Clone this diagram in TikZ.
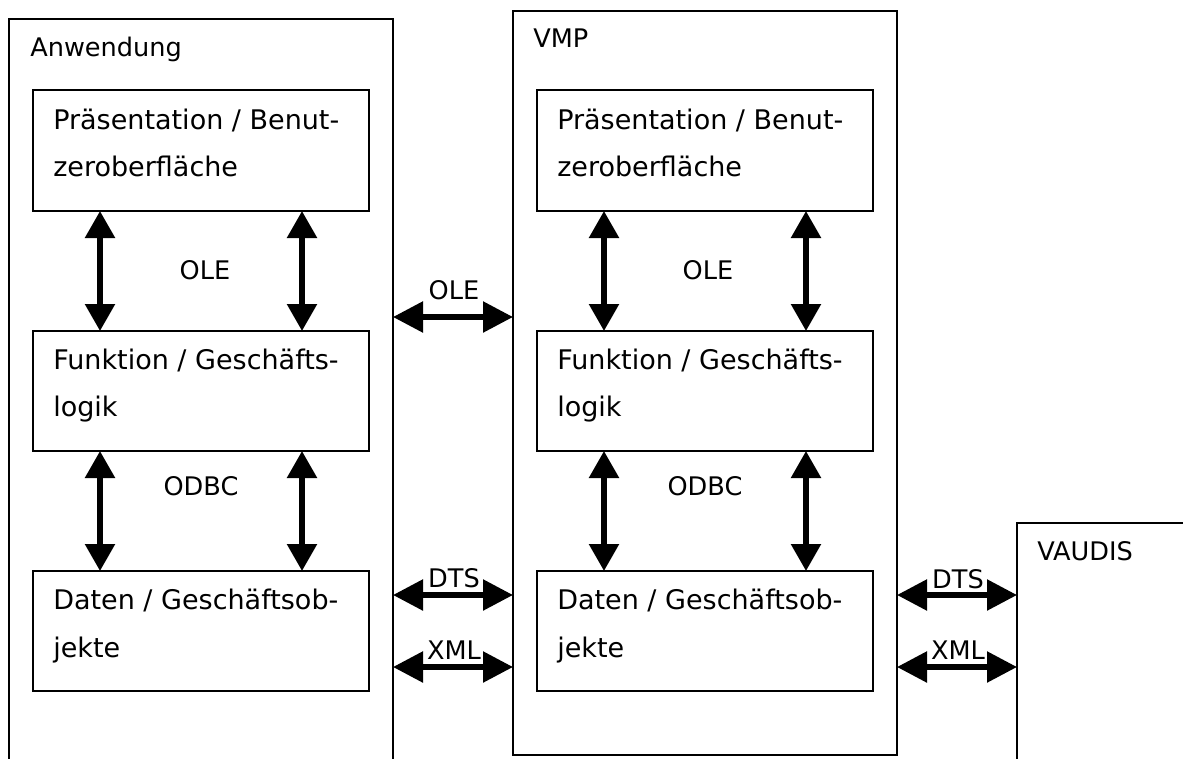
\documentclass[tikz,border=0pt]{standalone}
\usepackage{fontspec}
\setmainfont{DejaVu Sans}
\usetikzlibrary{arrows.meta}
\def\pxu{0.75pt}
\tikzset{
  frame/.style={draw, line width=1.5pt, outer sep=0pt, inner sep=0pt},
  layer/.style={draw, line width=1.5pt, outer sep=0pt, inner sep=0pt,
    minimum width=336*\pxu, minimum height=120*\pxu},
  boxtext/.style={anchor=base west, inner sep=0pt, font=\fontsize{20.25}{24}\selectfont},
  title/.style={anchor=base west, inner sep=0pt, font=\fontsize{19.2}{23}\selectfont},
  lbl/.style={anchor=base, inner sep=0pt, font=\fontsize{19.2}{23}\selectfont},
  varrow/.style={line width=5.5*\pxu,
    {Triangle[length=27*\pxu, width=29*\pxu]}-{Triangle[length=27*\pxu, width=29*\pxu]}},
  harrow/.style={line width=5.5*\pxu,
    {Triangle[length=30*\pxu, width=30*\pxu]}-{Triangle[length=30*\pxu, width=30*\pxu]}}
}
\begin{document}
\begin{tikzpicture}[x=0.75pt, y=-0.75pt]
\clip (0,0) rectangle (1183,758);
\fill[white] (0,0) rectangle (1183,758);

% outer systems
\node[frame, minimum width=384*\pxu, minimum height=781*\pxu] (app) at (201,409.5) {};
\node[frame, minimum width=384*\pxu, minimum height=744*\pxu] (vmp) at (705,383) {};
\node[frame, minimum width=233*\pxu, minimum height=277*\pxu] (vaudis) at (1133.5,661.5) {};

\node[title] (appname) at (30,56) {Anwendung};
\node[title] (vmpname) at (533,47) {VMP};
\node[title] (vaudisname) at (1037,560) {VAUDIS};

% layers of the application
\node[layer, minimum height=121*\pxu] (ap) at (201,150.5) {};
\node[layer] (af) at (201,391) {};
\node[layer] (ad) at (201,631) {};
\node[boxtext] (ap1) at (53,129) {Präsentation / Benut-};
\node[boxtext] (ap2) at (53,176) {zeroberfläche};
\node[boxtext] (af1) at (53,369) {Funktion / Geschäfts-};
\node[boxtext] (af2) at (53,416) {logik};
\node[boxtext] (ad1) at (53,609) {Daten / Geschäftsob-};
\node[boxtext] (ad2) at (53,657) {jekte};

% layers of VMP
\node[layer, minimum height=121*\pxu] (vp) at (705,150.5) {};
\node[layer] (vf) at (705,391) {};
\node[layer] (vd) at (705,631) {};
\node[boxtext] (vp1) at (557,129) {Präsentation / Benut-};
\node[boxtext] (vp2) at (557,176) {zeroberfläche};
\node[boxtext] (vf1) at (557,369) {Funktion / Geschäfts-};
\node[boxtext] (vf2) at (557,416) {logik};
\node[boxtext] (vd1) at (557,609) {Daten / Geschäftsob-};
\node[boxtext] (vd2) at (557,657) {jekte};

% columns of the vertical links
\coordinate (ac1) at (100,0);
\coordinate (ac2) at (302,0);
\coordinate (vc1) at (604,0);
\coordinate (vc2) at (806,0);

\draw[varrow] (ap.south -| ac1) -- (af.north -| ac1);
\draw[varrow] (ap.south -| ac2) -- (af.north -| ac2);
\draw[varrow] (af.south -| ac1) -- (ad.north -| ac1);
\draw[varrow] (af.south -| ac2) -- (ad.north -| ac2);
\draw[varrow] (vp.south -| vc1) -- (vf.north -| vc1);
\draw[varrow] (vp.south -| vc2) -- (vf.north -| vc2);
\draw[varrow] (vf.south -| vc1) -- (vd.north -| vc1);
\draw[varrow] (vf.south -| vc2) -- (vd.north -| vc2);

\node[lbl] (aole) at (205,279) {OLE};
\node[lbl] (vole) at (708,279) {OLE};
\node[lbl] (aodbc) at (201,495) {ODBC};
\node[lbl] (vodbc) at (705,495) {ODBC};

% links between the systems
\coordinate (yole) at (0,317);
\coordinate (ydts) at (0,595);
\coordinate (yxml) at (0,667);

\draw[harrow] (app.east |- yole) -- (vmp.west |- yole);
\draw[harrow] (app.east |- ydts) -- (vmp.west |- ydts);
\draw[harrow] (app.east |- yxml) -- (vmp.west |- yxml);
\draw[harrow] (vmp.east |- ydts) -- (vaudis.west |- ydts);
\draw[harrow] (vmp.east |- yxml) -- (vaudis.west |- yxml);

\node[lbl] (lole) at (454,299) {OLE};
\node[lbl] (ldts) at (454,587) {DTS};
\node[lbl] (lxml) at (454,659) {XML};
\node[lbl] (rdts) at (958,588) {DTS};
\node[lbl] (rxml) at (958,659) {XML};
\end{tikzpicture}
\end{document}
